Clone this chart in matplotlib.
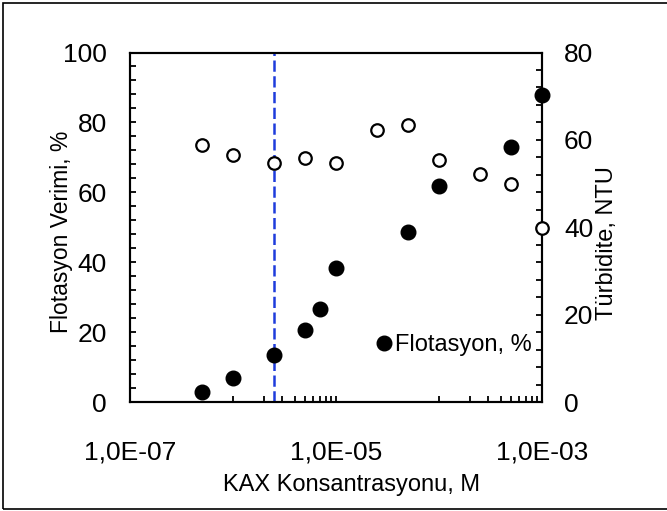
import numpy as np
import matplotlib.pyplot as plt
from matplotlib.ticker import FixedLocator, FuncFormatter, MultipleLocator, NullFormatter
from matplotlib.patches import Rectangle

plt.rcParams['font.family'] = ['Liberation Sans', 'DejaVu Sans']

# Flotasyon verimi (left axis, %)
flot_conc = [5e-7, 1e-6, 2.5e-6, 5e-6, 7e-6, 1e-5, 5e-5, 1e-4, 5e-4, 1e-3]
flot_verim = [3.0, 6.9, 13.4, 20.7, 26.5, 38.4, 48.7, 61.8, 73.1, 87.8]

# Turbidite (right axis, NTU)
turb_conc = [5e-7, 1e-6, 2.5e-6, 5e-6, 1e-5, 2.5e-5, 5e-5, 1e-4, 2.5e-4, 5e-4, 1e-3]
turb_ntu = [58.8, 56.5, 54.6, 55.9, 54.6, 62.2, 63.5, 55.5, 52.2, 49.9, 39.9]

cmc_line = 2.5e-6

fig = plt.figure(figsize=(6.67, 5.11), dpi=100)
ax = fig.add_axes([130/667, 1-402/511, 411.7/667, 349.5/511])
ax2 = ax.twinx()

ax.plot(flot_conc, flot_verim, 'o', color='black', ms=10.5, label='Flotasyon, %', zorder=3, clip_on=False)
ax2.plot(turb_conc, turb_ntu, 'o', mfc='white', mec='black', mew=1.6, ms=9, zorder=3, clip_on=False)
ax.axvline(cmc_line, color='#1E3CDC', lw=1.8, dashes=(4.5, 1.8), zorder=2)

ax.set_xscale('log')
ax.set_xlim(1e-7, 1e-3)
ax.set_ylim(0, 100)
ax2.set_ylim(0, 80)

ax.xaxis.set_major_locator(FixedLocator([1e-7, 1e-5, 1e-3]))
minors = [k * 1e-7 for k in range(10, 100, 10)] + [k * 1e-5 for k in range(10, 100, 10)]
ax.xaxis.set_minor_locator(FixedLocator(minors))
ax.xaxis.set_major_formatter(FuncFormatter(lambda v, p: '{:.1E}'.format(v).replace('.', ',')))
ax.xaxis.set_minor_formatter(NullFormatter())
ax.yaxis.set_major_locator(MultipleLocator(20))
ax.yaxis.set_minor_locator(MultipleLocator(4))
ax2.yaxis.set_major_locator(MultipleLocator(20))
ax2.yaxis.set_minor_locator(MultipleLocator(4))

for a in (ax, ax2):
    for s in a.spines.values():
        s.set_linewidth(1.5)
ax.tick_params(axis='x', which='both', direction='in', length=4.5, width=1.3, labelsize=19, pad=28, top=False)
ax.tick_params(axis='y', which='both', direction='in', length=4.5, width=1.3, labelsize=19, pad=16.5, right=False)
ax2.tick_params(axis='y', which='both', direction='in', length=4.5, width=1.3, labelsize=19, pad=16)

ax.set_xlabel('KAX Konsantrasyonu, M', fontsize=17)
ax.xaxis.label.set_verticalalignment('baseline')
ax.xaxis.set_label_coords(0.539, -0.254)
ax.set_ylabel('Flotasyon Verimi, %', fontsize=16.5)
ax.yaxis.label.set_verticalalignment('baseline')
ax.yaxis.set_label_coords(-0.151, 0.486)
ax2.set_ylabel('Türbidite, NTU', fontsize=17, rotation=90)
ax2.yaxis.label.set_verticalalignment('baseline')
ax2.yaxis.set_label_coords(1.173, 0.454)

ax.legend(loc='center left', bbox_to_anchor=(0.600, 0.163), frameon=False, fontsize=17,
          handlelength=0.6, handletextpad=0.15, borderpad=0, borderaxespad=0)

fig.patches.append(Rectangle((3/667, 2/511), 1.0, 506/511, transform=fig.transFigure,
                             fill=False, edgecolor='black', lw=1.2))

fig.savefig('out.png', dpi=100)
